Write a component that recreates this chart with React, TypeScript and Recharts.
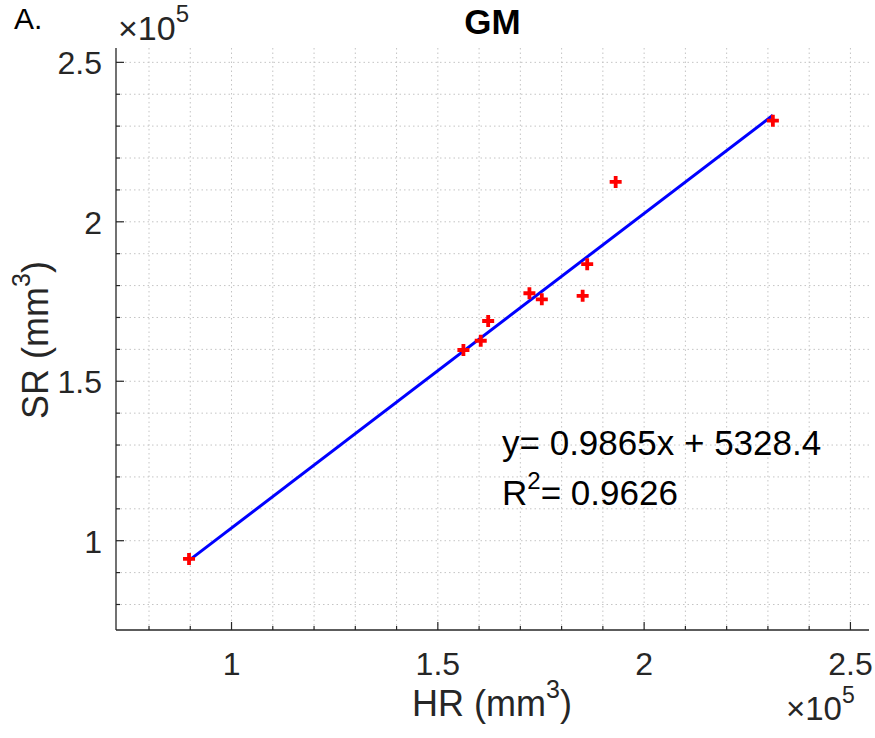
import React from 'react';
import { ScatterChart, Scatter, XAxis, YAxis, CartesianGrid } from 'recharts';

// HR vs SR volumes (mm^3)
const hrVolume = [89700, 156200, 160400, 162200, 172200, 175200, 185100, 186200, 193100, 231200];
const srVolume = [94300, 159800, 162700, 168900, 177600, 175700, 176800, 186700, 212500, 231700];

const slope = 0.9865;
const intercept = 5328.4;
const rSquared = 0.9626;

const majorTicks = [100000, 150000, 200000, 250000];
const allTicks = [
  80000, 90000, 100000, 110000, 120000, 130000, 140000, 150000, 160000,
  170000, 180000, 190000, 200000, 210000, 220000, 230000, 240000, 250000,
];
const axisDomain = [72000, 254500];

const points = hrVolume.map((x, i) => ({ x, y: srVolume[i] }));
const xMin = Math.min(...hrVolume);
const xMax = Math.max(...hrVolume);
const fitLine = [
  { x: xMin, y: slope * xMin + intercept },
  { x: xMax, y: slope * xMax + intercept },
];

const FONT = '"Liberation Sans", Arial, Helvetica, sans-serif';
const AXIS_COLOR = '#262626';

const fmt = (v: number) => String(v / 1e5);

const XTick = (props: any) => {
  const { x, y, payload } = props;
  const major = majorTicks.includes(payload.value);
  return (
    <g>
      <line x1={x} x2={x} y1={y} y2={y - (major ? 8 : 4)} stroke={AXIS_COLOR} strokeWidth={1.2} />
      {major && (
        <text x={x} y={y + 45} textAnchor="middle" fontSize={32} fontFamily={FONT} fill={AXIS_COLOR}>
          {fmt(payload.value)}
        </text>
      )}
    </g>
  );
};

const YTick = (props: any) => {
  const { x, y, payload } = props;
  const major = majorTicks.includes(payload.value);
  return (
    <g>
      <line x1={x} x2={x + (major ? 8 : 4)} y1={y} y2={y} stroke={AXIS_COLOR} strokeWidth={1.2} />
      {major && (
        <text x={x - 14} y={y + 12} textAnchor="end" fontSize={32} fontFamily={FONT} fill={AXIS_COLOR}>
          {fmt(payload.value)}
        </text>
      )}
    </g>
  );
};

const PlusMarker = (props: any) => {
  const { cx, cy } = props;
  const r = 6;
  return (
    <path
      d={`M${cx - r},${cy}H${cx + r}M${cx},${cy - r}V${cy + r}`}
      stroke="#ff0000"
      strokeWidth={3.8}
      fill="none"
    />
  );
};

const NoMarker = () => <g />;

export default function App() {
  return (
    <div style={{ position: 'absolute', left: 0, top: 0, width: 875, height: 738, background: '#fff' }}>
      <ScatterChart width={875} height={738} margin={{ top: 48, right: 6, left: 0, bottom: 0 }}>
        <CartesianGrid
          stroke="#c4c4c4"
          strokeDasharray="1.5 3"
          verticalValues={allTicks}
          horizontalValues={allTicks}
        />
        <XAxis
          type="number"
          dataKey="x"
          domain={axisDomain}
          allowDataOverflow
          ticks={allTicks}
          interval={0}
          tickSize={0}
          tickMargin={0}
          tickLine={false}
          tick={<XTick />}
          height={108}
          axisLine={{ stroke: AXIS_COLOR, strokeWidth: 1.3 }}
        />
        <YAxis
          type="number"
          dataKey="y"
          domain={axisDomain}
          allowDataOverflow
          ticks={allTicks}
          interval={0}
          tickSize={0}
          tickMargin={0}
          tickLine={false}
          tick={<YTick />}
          width={116}
          axisLine={{ stroke: AXIS_COLOR, strokeWidth: 1.3 }}
        />
        <Scatter
          data={fitLine}
          fill="#0000ff"
          line={{ stroke: '#0000ff', strokeWidth: 3 }}
          shape={<NoMarker />}
          isAnimationActive={false}
        />
        <Scatter data={points} fill="#ff0000" shape={<PlusMarker />} isAnimationActive={false} />
      </ScatterChart>

      <svg
        width={875}
        height={738}
        style={{ position: 'absolute', left: 0, top: 0, pointerEvents: 'none' }}
        fontFamily={FONT}
      >
        <text x={14} y={29} fontSize={30} fill="#000">A.</text>
        <text x={492.5} y={34} fontSize={35} fontWeight="bold" textAnchor="middle" fill="#000">GM</text>

        <text x={118} y={40} fontSize={34} fill={AXIS_COLOR}>
          ×10<tspan dy={-18} fontSize={24}>5</tspan>
        </text>
        <text x={786} y={720} fontSize={33} fill={AXIS_COLOR}>
          ×10<tspan dy={-17} fontSize={23}>5</tspan>
        </text>

        <text x={492} y={716} fontSize={36} textAnchor="middle" fill={AXIS_COLOR}>
          HR (mm<tspan dy={-18} fontSize={25}>3</tspan><tspan dy={18}>)</tspan>
        </text>
        <text transform="translate(48, 340) rotate(-90)" fontSize={36} textAnchor="middle" fill={AXIS_COLOR}>
          SR (mm<tspan dy={-18} fontSize={25}>3</tspan><tspan dy={18}>)</tspan>
        </text>

        <text x={502} y={455} fontSize={35} fill="#000">
          y= {slope}x + {intercept}
        </text>
        <text x={502} y={505} fontSize={35} fill="#000">
          R<tspan dy={-16} fontSize={24}>2</tspan><tspan dy={16}>= {rSquared}</tspan>
        </text>
      </svg>
    </div>
  );
}
